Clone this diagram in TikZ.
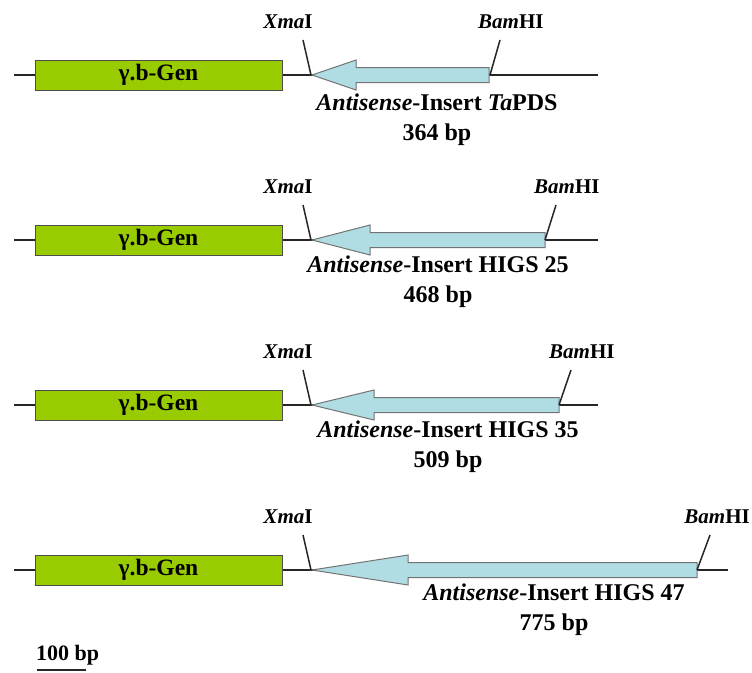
\documentclass[tikz,border=0pt]{standalone}
\usepackage{fontspec}
\setmainfont{Liberation Serif}
\usepackage{tikz}
\usetikzlibrary{positioning}

\definecolor{genegreen}{RGB}{153,204,0}
\definecolor{insertblue}{RGB}{176,220,228}

\begin{document}
\begin{tikzpicture}[
        x=1pt, y=-1pt,
        gene/.style = {draw=black!70, line width=1pt, fill=genegreen, minimum width=247pt, minimum height=30pt, inner sep=0pt, font=\bfseries\fontsize{23.5}{26}\selectfont},
        backbone/.style = {line width=1.8pt, black!85},
        insert/.style = {draw=black!55, line width=1pt, fill=insertblue},
        cut/.style = {line width=1.5pt, black!85},
        site/.style = {inner sep=0pt, font=\bfseries\fontsize{21}{24}\selectfont},
        label/.style = {inner sep=0pt, anchor=north, align=center, font=\bfseries\fontsize{24}{30}\selectfont}
    ]
    \useasboundingbox (0,0) rectangle (752,672);

    % TaPDS
    \coordinate (s1) at (14,75);
    \coordinate (e1) at (598,75);
    \draw[backbone] (s1) -- (e1);
    \node[gene] (gene1) at (158.5,75) {γ.b-Gen};
    \draw[insert] (312,75) -- (356,60) -- (356,67.5) -- (489,67.5) -- (489,82.5) -- (356,82.5) -- (356,90) -- cycle;
    \coordinate (xt1) at (303,40);
    \coordinate (xb1) at (311,75);
    \coordinate (bt1) at (500,40);
    \coordinate (bb1) at (490,75);
    \draw[cut] (xt1) -- (xb1);
    \draw[cut] (bt1) -- (bb1);
    \node[site, above=11pt of xt1, xshift=-15pt] (xma1) {\textit{Xma}I};
    \node[site, above right=11pt and -22pt of bt1] (bam1) {\textit{Bam}HI};
    \node[label] (ins1) at (437,94) {\textit{Antisense}-Insert \textit{Ta}PDS\\364 bp};

    % HIGS 25
    \coordinate (s2) at (14,240);
    \coordinate (e2) at (598,240);
    \draw[backbone] (s2) -- (e2);
    \node[gene] (gene2) at (158.5,240) {γ.b-Gen};
    \draw[insert] (312,240) -- (370,225) -- (370,232.5) -- (545,232.5) -- (545,247.5) -- (370,247.5) -- (370,255) -- cycle;
    \coordinate (xt2) at (303,205);
    \coordinate (xb2) at (311,240);
    \coordinate (bt2) at (556,205);
    \coordinate (bb2) at (545,240);
    \draw[cut] (xt2) -- (xb2);
    \draw[cut] (bt2) -- (bb2);
    \node[site, above=11pt of xt2, xshift=-15pt] (xma2) {\textit{Xma}I};
    \node[site, above right=11pt and -22pt of bt2] (bam2) {\textit{Bam}HI};
    \node[label] (ins2) at (438,256) {\textit{Antisense}-Insert HIGS 25\\468 bp};

    % HIGS 35
    \coordinate (s3) at (14,405);
    \coordinate (e3) at (598,405);
    \draw[backbone] (s3) -- (e3);
    \node[gene] (gene3) at (158.5,405) {γ.b-Gen};
    \draw[insert] (312,405) -- (374,390) -- (374,397.5) -- (559,397.5) -- (559,412.5) -- (374,412.5) -- (374,420) -- cycle;
    \coordinate (xt3) at (303,370);
    \coordinate (xb3) at (311,405);
    \coordinate (bt3) at (571,370);
    \coordinate (bb3) at (559,405);
    \draw[cut] (xt3) -- (xb3);
    \draw[cut] (bt3) -- (bb3);
    \node[site, above=11pt of xt3, xshift=-15pt] (xma3) {\textit{Xma}I};
    \node[site, above right=11pt and -22pt of bt3] (bam3) {\textit{Bam}HI};
    \node[label] (ins3) at (448,421) {\textit{Antisense}-Insert HIGS 35\\509 bp};

    % HIGS 47
    \coordinate (s4) at (14,570);
    \coordinate (e4) at (728,570);
    \draw[backbone] (s4) -- (e4);
    \node[gene] (gene4) at (158.5,570) {γ.b-Gen};
    \draw[insert] (312,570) -- (408,555) -- (408,562.5) -- (697,562.5) -- (697,577.5) -- (408,577.5) -- (408,585) -- cycle;
    \coordinate (xt4) at (303,535);
    \coordinate (xb4) at (311,570);
    \coordinate (bt4) at (710,535);
    \coordinate (bb4) at (697,570);
    \draw[cut] (xt4) -- (xb4);
    \draw[cut] (bt4) -- (bb4);
    \node[site, above=11pt of xt4, xshift=-15pt] (xma4) {\textit{Xma}I};
    \node[site, above left=11pt and -40pt of bt4] (bam4) {\textit{Bam}HI};
    \node[label] (ins4) at (554,584) {\textit{Antisense}-Insert HIGS 47\\775 bp};

    % scale
    \node[site, anchor=west, font=\bfseries\fontsize{22}{24}\selectfont] (scale) at (36,655) {100 bp};
    \coordinate (sc1) at (37,670);
    \coordinate (sc2) at (86,670);
    \draw[backbone] (sc1) -- (sc2);
\end{tikzpicture}
\end{document}
